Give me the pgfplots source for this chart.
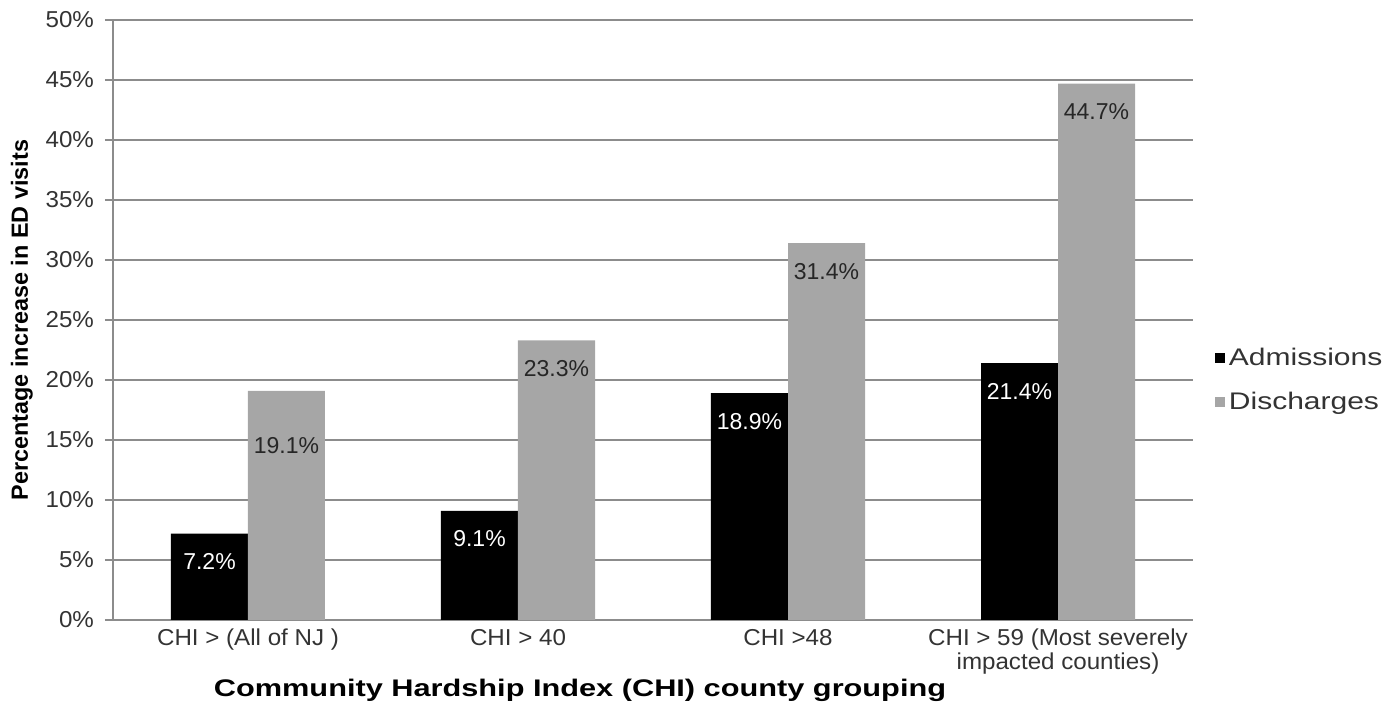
\documentclass[border=0pt]{standalone}
\usepackage{pgfplots}
\usepackage{pgfplotstable}
\pgfplotsset{compat=1.18}
\usepackage{fontspec}
\setmainfont{Liberation Sans}[FakeStretch=1.05]
\newfontfamily\plainfont{Liberation Sans}
\newfontfamily\legfont{Liberation Sans}[FakeStretch=1.25]
\newfontfamily\titlefont{Liberation Sans}[FakeStretch=1.28]

\definecolor{gridgray}{HTML}{8C8C8C}
\definecolor{bargray}{HTML}{A6A6A6}
\definecolor{txt}{HTML}{333333}

% x y labelshift
\pgfplotstableread{
x y s
0 7.2 -14
1 9.1 -14
2 18.9 -14
3 21.4 -14
}\admissions
\pgfplotstableread{
x y s
0 19.1 -27.5
1 23.3 -14
2 31.4 -14
3 44.7 -14
}\discharges

\begin{document}
\begin{tikzpicture}
\path[use as bounding box] (-56.5pt,-43pt) rectangle (642.5pt,310pt);
\begin{axis}[
    at={(0,0)}, anchor=south west,
    scale only axis, width=540pt, height=300pt,
    ybar=0pt, bar width=38.5pt,
    xmin=-0.5, xmax=3.5, ymin=0, ymax=50,
    xtick=data,
    xticklabels={CHI > (All of NJ ), CHI > 40, CHI >48, {CHI > 59 (Most severely\\impacted counties)}},
    xtick style={draw=none},
    ytick={0,5,...,50},
    yticklabel={\pgfmathprintnumber{\tick}\%},
    /pgf/number format/assume math mode=true,
    tick align=outside, major tick length=4pt,
    ytick style={gridgray, line width=0.6pt},
    axis x line*=bottom, axis y line*=left,
    axis line style={gridgray, line width=0.6pt, -},
    ymajorgrids, grid style={gridgray, line width=0.6pt},
    ticklabel style={font=\fontsize{11.5}{12}\selectfont, text=txt},
    xticklabel style={align=center, yshift=3pt},
    yticklabel style={xshift=-2pt},
    xlabel={Community Hardship Index (CHI) county grouping},
    ylabel={Percentage increase in ED visits},
    xlabel style={font=\titlefont\bfseries\fontsize{12}{14}\selectfont,
        at={(axis description cs:0.4324,-0.1167)}, anchor=center},
    ylabel style={font=\plainfont\bfseries\fontsize{11.7}{14}\selectfont,
        at={(axis description cs:-0.0843,0.5)}, anchor=center},
    legend style={at={(axis description cs:1.014,0.4)}, anchor=west,
        draw=none, fill=none, row sep=8pt,
        font=\legfont\fontsize{12}{14}\selectfont, text=txt,
        cells={anchor=west}},
    visualization depends on={\thisrow{s} \as \labshift},
    nodes near coords={\pgfmathprintnumber[fixed,fixed zerofill,precision=1]{\pgfplotspointmeta}\%},
    every node near coord/.append style={anchor=center, yshift=\labshift pt,
        font=\plainfont\fontsize{11.5}{12}\selectfont},
]
\addplot[draw=none, fill=black, nodes near coords style={text=white},
    legend image code/.code={\fill[black] (0pt,-2.6pt) rectangle (5.2pt,2.6pt);}]
    table[x=x, y=y] {\admissions};
\addplot[draw=none, fill=bargray, nodes near coords style={text=black!85},
    legend image code/.code={\fill[bargray] (0pt,-2.6pt) rectangle (5.2pt,2.6pt);}]
    table[x=x, y=y] {\discharges};
\legend{Admissions, Discharges}
\end{axis}
\end{tikzpicture}
\end{document}
